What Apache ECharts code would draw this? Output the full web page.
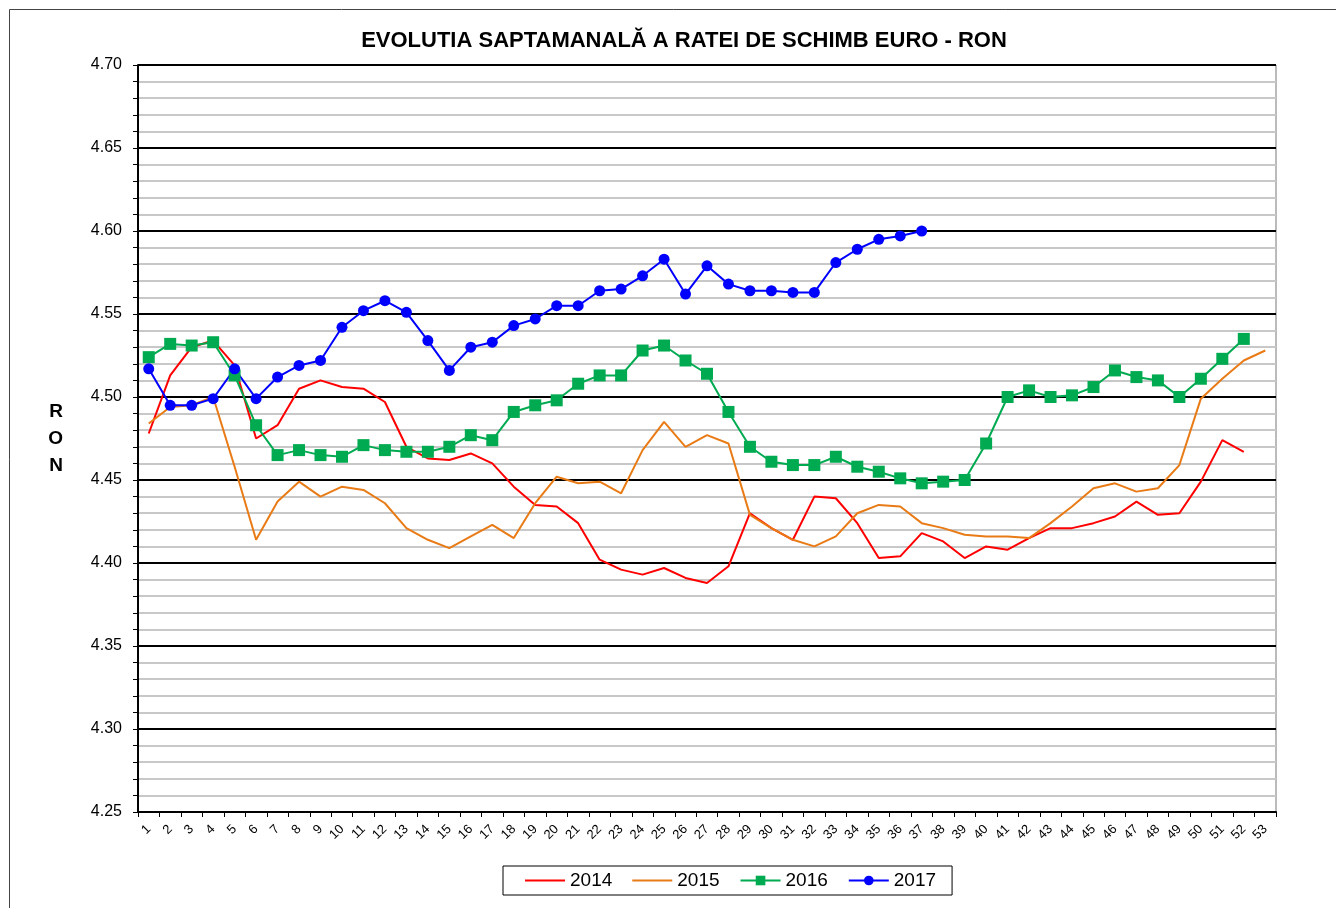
<!DOCTYPE html>
<html>
<head>
<meta charset="utf-8">
<title>Evolutia saptamanala EUR-RON</title>
<script src="https://cdn.jsdelivr.net/npm/echarts@6/dist/echarts.min.js"></script>
<style>
  html, body { margin: 0; padding: 0; background: #fff; }
  #chart { width: 1336px; height: 908px; }
</style>
</head>
<body>
<div id="chart"></div>
<script>
// saptamanile anului
const weeks = ['1','2','3','4','5','6','7','8','9','10','11','12','13','14','15','16','17','18','19','20',
  '21','22','23','24','25','26','27','28','29','30','31','32','33','34','35','36','37','38','39','40',
  '41','42','43','44','45','46','47','48','49','50','51','52','53']

const v2014 = [4.478, 4.513, 4.530, 4.534, 4.519, 4.475, 4.483, 4.505, 4.510, 4.506,
  4.505, 4.497, 4.470, 4.463, 4.462, 4.466, 4.460, 4.446, 4.435, 4.434,
  4.424, 4.402, 4.396, 4.393, 4.397, 4.391, 4.388, 4.398, 4.430, 4.421,
  4.414, 4.440, 4.439, 4.424, 4.403, 4.404, 4.418, 4.413, 4.403, 4.410,
  4.408, 4.415, 4.421, 4.421, 4.424, 4.428, 4.437, 4.429, 4.430, 4.449,
  4.474, 4.467]

const v2015 = [4.484, 4.494, 4.495, 4.500, 4.458, 4.414, 4.437, 4.449, 4.440, 4.446,
  4.444, 4.436, 4.421, 4.414, 4.409, 4.416, 4.423, 4.415, 4.436, 4.452,
  4.448, 4.449, 4.442, 4.468, 4.485, 4.470, 4.477, 4.472, 4.429, 4.421,
  4.414, 4.410, 4.416, 4.430, 4.435, 4.434, 4.424, 4.421, 4.417, 4.416,
  4.416, 4.415, 4.424, 4.434, 4.445, 4.448, 4.443, 4.445, 4.459, 4.499,
  4.511, 4.522, 4.528]

const v2016 = [4.524, 4.532, 4.531, 4.533, 4.513, 4.483, 4.465, 4.468, 4.465, 4.464,
  4.471, 4.468, 4.467, 4.467, 4.470, 4.477, 4.474, 4.491, 4.495, 4.498,
  4.508, 4.513, 4.513, 4.528, 4.531, 4.522, 4.514, 4.491, 4.470, 4.461,
  4.459, 4.459, 4.464, 4.458, 4.455, 4.451, 4.448, 4.449, 4.450, 4.472,
  4.500, 4.504, 4.500, 4.501, 4.506, 4.516, 4.512, 4.510, 4.500, 4.511,
  4.523, 4.535]

const v2017 = [4.517, 4.495, 4.495, 4.499, 4.517, 4.499, 4.512, 4.519, 4.522, 4.542,
  4.552, 4.558, 4.551, 4.534, 4.516, 4.530, 4.533, 4.543, 4.547, 4.555,
  4.555, 4.564, 4.565, 4.573, 4.583, 4.562, 4.579, 4.568, 4.564, 4.564,
  4.563, 4.563, 4.581, 4.589, 4.595, 4.597, 4.600]

const FONT = '"Liberation Sans", Arial, sans-serif'
const LINE_ICON = 'path://M0,0 L40,0 L40,2 L0,2 Z'

const chart = echarts.init(document.getElementById('chart'), null, { renderer: 'canvas' })

chart.setOption({
  animation: false,
  textStyle: { fontFamily: FONT, color: '#000' },
  title: {
    text: 'EVOLUTIA SAPTAMANALĂ A RATEI DE SCHIMB EURO - RON',
    left: 679,
    textAlign: 'center',
    top: 25,
    textStyle: { fontSize: 22, fontWeight: 'bold', fontFamily: FONT, color: '#000' }
  },
  graphic: [{
    type: 'rect',
    z: -10,
    shape: { x: 9.5, y: 9.5, width: 1340, height: 920 },
    style: { fill: 'none', stroke: '#444', lineWidth: 1 }
  }],
  grid: {
    left: 138, right: 60, top: 65, bottom: 96,
    show: true, borderColor: '#777', borderWidth: 1
  },
  legend: {
    left: 503,
    top: 866,
    itemWidth: 40,
    itemHeight: 12,
    itemGap: 20,
    padding: [5, 16, 5, 22],
    borderColor: '#000',
    borderWidth: 1,
    textStyle: { fontSize: 19, fontFamily: FONT, color: '#000' },
    data: [
      { name: '2014', icon: LINE_ICON },
      { name: '2015', icon: LINE_ICON },
      '2016',
      '2017'
    ]
  },
  xAxis: {
    type: 'category',
    data: weeks,
    boundaryGap: true,
    axisLine: { lineStyle: { color: '#000', width: 2 } },
    axisTick: { show: true, length: 5, lineStyle: { color: '#000', width: 1 } },
    axisLabel: { interval: 0, rotate: 45, fontSize: 13, margin: 15, color: '#000', fontFamily: FONT },
    splitLine: { show: false }
  },
  yAxis: {
    type: 'value',
    min: 4.25,
    max: 4.70,
    interval: 0.05,
    name: 'R\nO\nN',
    nameLocation: 'middle',
    nameRotate: 0,
    nameGap: 75,
    nameTextStyle: { fontSize: 19, fontWeight: 'bold', lineHeight: 27, color: '#000', fontFamily: FONT, padding: [7, 0, 0, 0] },
    axisLine: { show: true, lineStyle: { color: '#000', width: 2 } },
    axisTick: { show: true, length: 5, lineStyle: { color: '#000' } },
    minorTick: { show: true, splitNumber: 5, length: 5, lineStyle: { color: '#000' } },
    axisLabel: { fontSize: 16, margin: 16, color: '#000', fontFamily: FONT, formatter: v => v.toFixed(2) },
    splitLine: { show: true, lineStyle: { color: '#000', width: 2 } },
    minorSplitLine: { show: true, lineStyle: { color: '#c8c8c8', width: 2 } }
  },
  series: [
    {
      name: '2014', type: 'line', data: v2014,
      symbol: 'none',
      lineStyle: { color: '#ff0000', width: 2 },
      itemStyle: { color: '#ff0000' }
    },
    {
      name: '2015', type: 'line', data: v2015,
      symbol: 'none',
      lineStyle: { color: '#e97b16', width: 2 },
      itemStyle: { color: '#e97b16' }
    },
    {
      name: '2016', type: 'line', data: v2016,
      symbol: 'rect', symbolSize: 12,
      lineStyle: { color: '#00aa50', width: 2 },
      itemStyle: { color: '#00aa50' }
    },
    {
      name: '2017', type: 'line', data: v2017,
      symbol: 'circle', symbolSize: 11,
      lineStyle: { color: '#0000ff', width: 2 },
      itemStyle: { color: '#0000ff' }
    }
  ]
})
</script>
</body>
</html>
